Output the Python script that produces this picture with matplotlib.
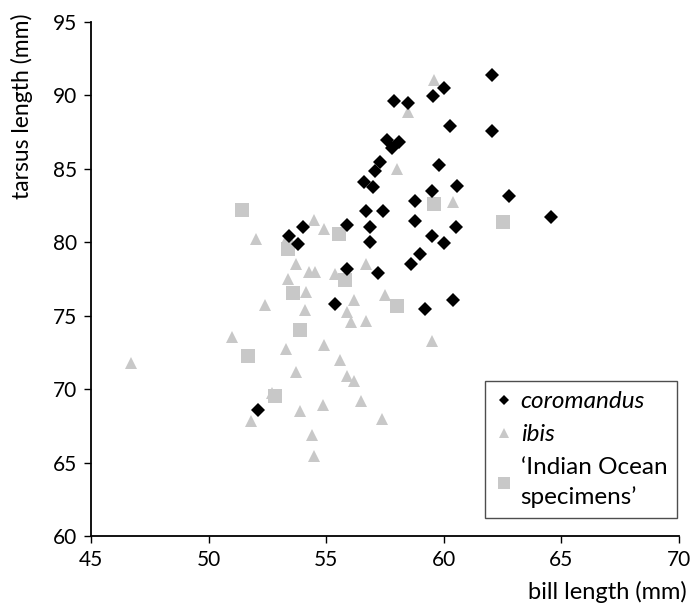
import matplotlib
matplotlib.use("Agg")
import matplotlib.pyplot as plt
from matplotlib.lines import Line2D

plt.rcParams['font.family'] = ['Lato', 'DejaVu Sans']

# coromandus (black diamonds)
cor_x = [62.05, 60.0, 59.55, 57.9, 58.49, 60.27, 62.07, 57.6, 58.1, 57.8,
         57.3, 57.08, 59.8, 56.6, 57.0, 60.57, 59.48, 58.78, 62.78, 64.57,
         57.4, 56.67, 56.85, 58.78, 60.5, 59.48, 59.99, 56.85, 58.99, 58.59,
         57.19, 60.4, 59.2, 54.0, 55.88, 53.8, 55.88, 55.39, 53.4, 52.1]
cor_y = [91.4, 90.5, 89.93, 89.62, 89.48, 87.9, 87.55, 86.95, 86.8, 86.4,
         85.46, 84.85, 85.24, 84.1, 83.74, 83.83, 83.47, 82.8, 83.13, 81.74,
         82.1, 82.1, 81.04, 81.43, 81.04, 80.45, 79.95, 80.0, 79.22, 78.49,
         77.93, 76.04, 75.43, 81.04, 81.15, 79.84, 78.2, 75.82, 80.4, 68.6]

# ibis (grey triangles)
ibis_x = [59.58, 58.49, 58.0, 60.4, 54.47, 54.9, 52.0, 53.38, 53.7, 54.26,
          54.5, 53.38, 55.39, 56.67, 54.12, 56.17, 52.4, 54.09, 55.88, 56.07,
          56.67, 51.0, 53.3, 54.9, 55.57, 53.7, 55.88, 56.19, 56.49, 52.68,
          54.88, 53.88, 51.79, 54.4, 54.47, 59.48, 57.39, 46.68, 57.5]
ibis_y = [91.03, 88.87, 85.0, 82.74, 81.5, 80.86, 80.18, 80.4, 78.5, 77.97,
          77.97, 77.47, 77.81, 78.54, 76.6, 76.04, 75.7, 75.41, 75.25, 74.56,
          74.63, 73.55, 72.7, 72.98, 71.96, 71.16, 70.87, 70.55, 69.18, 69.75,
          68.89, 68.5, 67.8, 66.85, 65.43, 73.3, 67.98, 71.77, 76.4]

# 'Indian Ocean specimens' (grey squares)
io_x = [51.41, 55.56, 53.38, 55.78, 53.6, 53.9, 51.69, 52.8, 58.0, 59.58, 62.5]
io_y = [82.22, 80.54, 79.5, 77.45, 76.54, 74.0, 72.23, 69.5, 75.63, 82.58, 81.4]

labels = ['coromandus', 'ibis', '\u2018Indian Ocean\nspecimens\u2019']
x_ticks = [45, 50, 55, 60, 65, 70]
y_ticks = [60, 65, 70, 75, 80, 85, 90, 95]

grey = '#c8c8c8'

fig = plt.figure(figsize=(6.92, 6.08), dpi=100)
ax = fig.add_axes([0.1319, 0.1184, 0.8490, 0.8459])

ax.plot(ibis_x, ibis_y, linestyle='none', marker='^', markersize=9,
        color=grey, markeredgewidth=0)
ax.plot(io_x, io_y, linestyle='none', marker='s', markersize=9.5,
        color=grey, markeredgewidth=0)
ax.plot(cor_x, cor_y, linestyle='none', marker='D', markersize=7,
        color='black', markeredgewidth=0)

ax.set_xlim(45, 70)
ax.set_ylim(60, 95)
ax.set_xticks(x_ticks)
ax.set_yticks(y_ticks)
ax.tick_params(labelsize=15, length=5, width=1, direction='out', pad=5)
for s in ['top', 'right']:
    ax.spines[s].set_visible(False)
for s in ['left', 'bottom']:
    ax.spines[s].set_linewidth(1.3)

fig.text(0.993, 0.008, 'bill length (mm)', ha='right', va='bottom', fontsize=17)
fig.text(0.016, 0.978, 'tarsus length (mm)', ha='left', va='top',
         rotation=90, fontsize=16.5)

handles = [
    Line2D([], [], linestyle='none', marker='D', markersize=5, color='black', markeredgewidth=0),
    Line2D([], [], linestyle='none', marker='^', markersize=7, color=grey, markeredgewidth=0),
    Line2D([], [], linestyle='none', marker='s', markersize=8, color=grey, markeredgewidth=0),
]
leg = ax.legend(handles, labels, loc='lower right', bbox_to_anchor=(0.997, 0.035),
                fontsize=17.5, frameon=True, fancybox=False, edgecolor='#222222',
                handlelength=0.7, handletextpad=0.35, borderpad=0.4,
                labelspacing=0.5, borderaxespad=0)
leg.get_frame().set_linewidth(1.0)
leg.get_texts()[0].set_style('italic')
leg.get_texts()[1].set_style('italic')
for t in leg.get_texts():
    t.set_linespacing(1.45)

fig.savefig('out.png', dpi=100)
